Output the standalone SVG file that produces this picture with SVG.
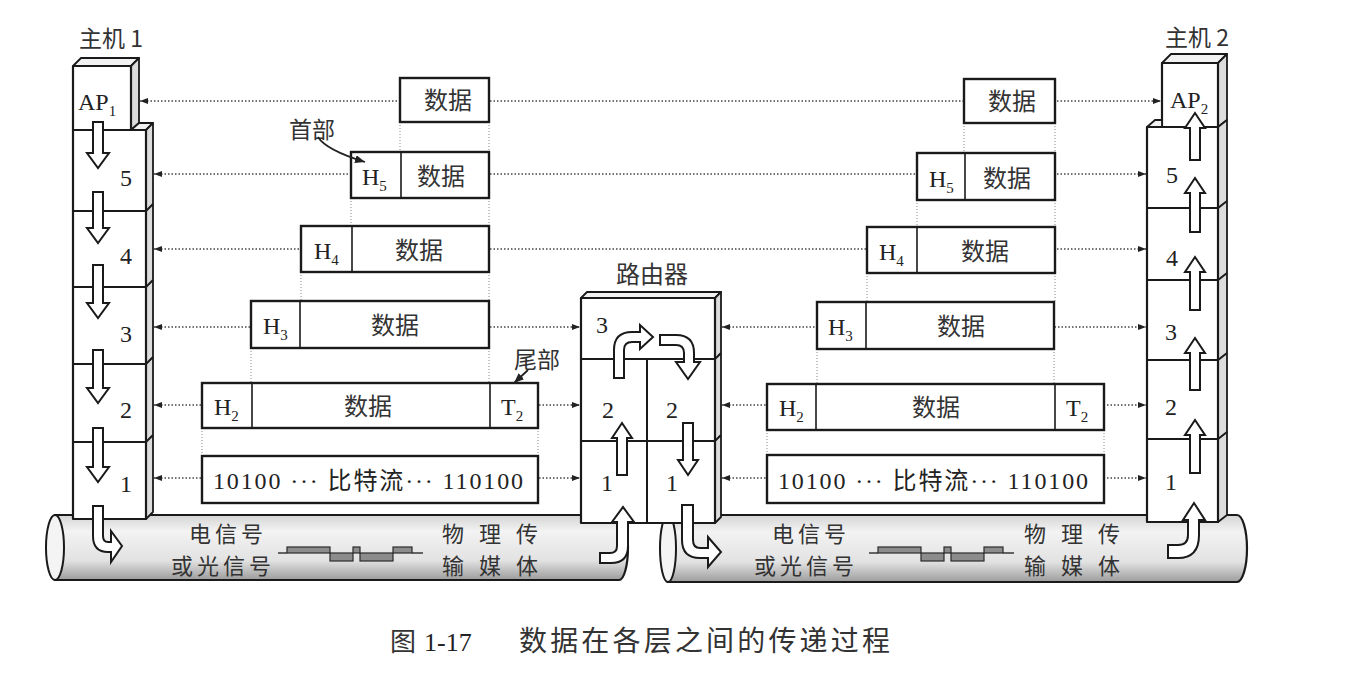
<svg xmlns="http://www.w3.org/2000/svg" width="1369" height="678" viewBox="0 0 1369 678">
<style>
.face{fill:#fff;stroke:#1a1a1a;stroke-width:2.2;stroke-linejoin:round}
.side{fill:#dcdcdc;stroke:#1a1a1a;stroke-width:1.8;stroke-linejoin:round}
.top{fill:#f2f2f2;stroke:#1a1a1a;stroke-width:1.8;stroke-linejoin:round}
.sep{stroke:#1a1a1a;stroke-width:2;fill:none}
.box{fill:#fff;stroke:#1a1a1a;stroke-width:2.4}
.div{stroke:#1a1a1a;stroke-width:1.6}
.dot{stroke:#444;stroke-width:1.3;stroke-dasharray:1.5 2;fill:none}
.guide{stroke:#888;stroke-width:1;stroke-dasharray:1 2;fill:none}
.harrow{fill:#fff;stroke:#1a1a1a;stroke-width:2;stroke-linejoin:miter}
.cable{fill:url(#cableGrad);stroke:#1a1a1a;stroke-width:2.2}
.wave{fill:#8c8c8c;stroke:#2a2a2a;stroke-width:1.2}
.cn{font-family:"Noto Sans CJK SC",sans-serif;fill:#333}
.sf{font-family:"Liberation Serif","Noto Sans CJK SC",serif;fill:#222}
.call{fill:none;stroke:#222;stroke-width:1.8}
.ct{font-family:"Noto Sans CJK SC",sans-serif;fill:#333;font-size:22px}
</style>
<defs>
<linearGradient id="cableGrad" x1="0" y1="0" x2="0" y2="1">
<stop offset="0" stop-color="#d4d4d4"/>
<stop offset="0.25" stop-color="#f3f3f3"/>
<stop offset="0.7" stop-color="#e2e2e2"/>
<stop offset="1" stop-color="#9c9c9c"/>
</linearGradient>
<marker id="ah" viewBox="0 0 8 6" refX="8" refY="3" markerWidth="8" markerHeight="6" markerUnits="userSpaceOnUse" orient="auto-start-reverse">
<path d="M0,0 L8,3 L0,6 Z" fill="#222"/>
</marker>
<marker id="ah2" viewBox="0 0 10 8" refX="10" refY="4" markerWidth="10" markerHeight="8" markerUnits="userSpaceOnUse" orient="auto">
<path d="M0,0 L10,4 L0,8 Z" fill="#222"/>
</marker>
</defs>
<rect width="1369" height="678" fill="#fff"/>

<!-- cables -->
<g id="cable-left">
<path class="cable" d="M55,515 H619 A9,32.5 0 0 1 619,580 H55 Z"/>
<ellipse cx="55" cy="547.5" rx="9" ry="32.5" fill="#f4f4f4" stroke="#1a1a1a" stroke-width="2"/>
<text class="ct" x="189" y="542" letter-spacing="4">电信号</text>
<text class="ct" x="171" y="574" letter-spacing="4">或光信号</text>
<line x1="278" y1="553" x2="287" y2="553" stroke="#2a2a2a" stroke-width="1.4"/>
<rect class="wave" x="287" y="547" width="43" height="6"/>
<rect class="wave" x="330" y="553" width="23" height="8"/>
<rect class="wave" x="353" y="547" width="7" height="6"/>
<rect class="wave" x="360" y="553" width="33" height="8"/>
<rect class="wave" x="393" y="547" width="19" height="6"/>
<line x1="412" y1="553" x2="423" y2="553" stroke="#2a2a2a" stroke-width="1.4"/>
<text class="ct" x="442" y="542" letter-spacing="15">物理传</text>
<text class="ct" x="442" y="574" letter-spacing="15">输媒体</text>
</g>
<g id="cable-right">
<path class="cable" d="M668,515 H1237 A10,33.5 0 0 1 1237,582 H668 Z"/>
<ellipse cx="668" cy="548.5" rx="8" ry="33.5" fill="#f4f4f4" stroke="#1a1a1a" stroke-width="2"/>
<text class="ct" x="772" y="542" letter-spacing="4">电信号</text>
<text class="ct" x="754" y="574" letter-spacing="4">或光信号</text>
<line x1="869" y1="553" x2="878" y2="553" stroke="#2a2a2a" stroke-width="1.4"/>
<rect class="wave" x="878" y="547" width="43" height="6"/>
<rect class="wave" x="921" y="553" width="23" height="8"/>
<rect class="wave" x="944" y="547" width="7" height="6"/>
<rect class="wave" x="951" y="553" width="33" height="8"/>
<rect class="wave" x="984" y="547" width="19" height="6"/>
<line x1="1003" y1="553" x2="1014" y2="553" stroke="#2a2a2a" stroke-width="1.4"/>
<text class="ct" x="1024" y="542" letter-spacing="15">物理传</text>
<text class="ct" x="1024" y="574" letter-spacing="15">输媒体</text>
</g>

<!-- connectors: peer dotted lines and guides -->
<g id="connectors">
<line class="dot" x1="140" y1="101" x2="1161" y2="101" marker-start="url(#ah)" marker-end="url(#ah)"/>
<line class="dot" x1="154" y1="174" x2="1146" y2="174" marker-start="url(#ah)" marker-end="url(#ah)"/>
<line class="dot" x1="154" y1="249" x2="1146" y2="249" marker-start="url(#ah)" marker-end="url(#ah)"/>
<line class="dot" x1="154" y1="327" x2="580" y2="327" marker-start="url(#ah)" marker-end="url(#ah)"/>
<line class="dot" x1="722" y1="327" x2="1146" y2="327" marker-start="url(#ah)" marker-end="url(#ah)"/>
<line class="dot" x1="154" y1="405" x2="580" y2="405" marker-start="url(#ah)" marker-end="url(#ah)"/>
<line class="dot" x1="722" y1="405" x2="1146" y2="405" marker-start="url(#ah)" marker-end="url(#ah)"/>
<line class="dot" x1="154" y1="478" x2="580" y2="478" marker-start="url(#ah)" marker-end="url(#ah)"/>
<line class="dot" x1="722" y1="478" x2="1146" y2="478" marker-start="url(#ah)" marker-end="url(#ah)"/>
<path class="guide" d="M400,122 V152 M489,122 V152 M489,198 V226 M351,198 V226 M489,272 V301 M301,272 V301 M489,348 V383 M251,348 V383 M202,428 V456 M538,428 V456"/>
<path class="guide" d="M964,123 V153 M1055,123 V153 M1055,200 V227 M917,200 V227 M1055,273 V302 M867,273 V302 M1054,349 V384 M817,349 V384 M767,430 V455 M1104,430 V455"/>
</g>

<!-- left packets -->
<g id="pkt-left-ap">
<rect class="box" x="400" y="78" width="89" height="44"/>
<text class="cn" x="448" y="109" font-size="24" text-anchor="middle">数据</text>
</g>
<g id="pkt-left-5">
<rect class="box" x="351" y="152" width="138" height="46"/>
<line class="div" x1="401" y1="152" x2="401" y2="198"/>
<text class="sf" x="362" y="185" font-size="24">H<tspan font-size="15" dy="6">5</tspan></text>
<text class="cn" x="441" y="185" font-size="24" text-anchor="middle">数据</text>
</g>
<g id="pkt-left-4">
<rect class="box" x="301" y="226" width="188" height="46"/>
<line class="div" x1="352" y1="226" x2="352" y2="272"/>
<text class="sf" x="314" y="259" font-size="24">H<tspan font-size="15" dy="6">4</tspan></text>
<text class="cn" x="419" y="259" font-size="24" text-anchor="middle">数据</text>
</g>
<g id="pkt-left-3">
<rect class="box" x="251" y="301" width="238" height="47"/>
<line class="div" x1="300" y1="301" x2="300" y2="348"/>
<text class="sf" x="263" y="334" font-size="24">H<tspan font-size="15" dy="6">3</tspan></text>
<text class="cn" x="395" y="334" font-size="24" text-anchor="middle">数据</text>
</g>
<g id="pkt-left-2">
<rect class="box" x="202" y="383" width="336" height="45"/>
<line class="div" x1="252" y1="383" x2="252" y2="428"/>
<line class="div" x1="490" y1="383" x2="490" y2="428"/>
<text class="sf" x="214" y="415" font-size="24">H<tspan font-size="15" dy="6">2</tspan></text>
<text class="cn" x="368" y="415" font-size="24" text-anchor="middle">数据</text>
<text class="sf" x="501" y="415" font-size="24">T<tspan font-size="15" dy="6">2</tspan></text>
</g>
<g id="pkt-left-1">
<rect class="box" x="202" y="456" width="336" height="47"/>
<text class="sf" x="368" y="489" font-size="24" text-anchor="middle" textLength="310" lengthAdjust="spacing">10100 ··· 比特流··· 110100</text>
</g>
<g id="label-head">
<text class="cn" x="312" y="138" font-size="23" text-anchor="middle">首部</text>
<path class="call" d="M318,137 Q326,150 365,162" marker-end="url(#ah2)"/>
</g>
<g id="label-tail">
<text class="cn" x="537" y="368" font-size="23" text-anchor="middle">尾部</text>
<path class="call" d="M528,370 L514,383" marker-end="url(#ah2)"/>
</g>

<!-- right packets -->
<g id="pkt-right-ap">
<rect class="box" x="964" y="79" width="91" height="44"/>
<text class="cn" x="1012" y="110" font-size="24" text-anchor="middle">数据</text>
</g>
<g id="pkt-right-5">
<rect class="box" x="917" y="153" width="138" height="47"/>
<line class="div" x1="965" y1="153" x2="965" y2="200"/>
<text class="sf" x="929" y="187" font-size="24">H<tspan font-size="15" dy="6">5</tspan></text>
<text class="cn" x="1007" y="187" font-size="24" text-anchor="middle">数据</text>
</g>
<g id="pkt-right-4">
<rect class="box" x="867" y="227" width="188" height="46"/>
<line class="div" x1="917" y1="227" x2="917" y2="273"/>
<text class="sf" x="879" y="260" font-size="24">H<tspan font-size="15" dy="6">4</tspan></text>
<text class="cn" x="985" y="260" font-size="24" text-anchor="middle">数据</text>
</g>
<g id="pkt-right-3">
<rect class="box" x="817" y="302" width="237" height="47"/>
<line class="div" x1="866" y1="302" x2="866" y2="349"/>
<text class="sf" x="828" y="335" font-size="24">H<tspan font-size="15" dy="6">3</tspan></text>
<text class="cn" x="961" y="335" font-size="24" text-anchor="middle">数据</text>
</g>
<g id="pkt-right-2">
<rect class="box" x="767" y="384" width="337" height="46"/>
<line class="div" x1="816" y1="384" x2="816" y2="430"/>
<line class="div" x1="1055" y1="384" x2="1055" y2="430"/>
<text class="sf" x="779" y="416" font-size="24">H<tspan font-size="15" dy="6">2</tspan></text>
<text class="cn" x="936" y="416" font-size="24" text-anchor="middle">数据</text>
<text class="sf" x="1066" y="416" font-size="24">T<tspan font-size="15" dy="6">2</tspan></text>
</g>
<g id="pkt-right-1">
<rect class="box" x="767" y="455" width="337" height="48"/>
<text class="sf" x="933" y="489" font-size="24" text-anchor="middle" textLength="310" lengthAdjust="spacing">10100 ··· 比特流··· 110100</text>
</g>

<!-- host 1 -->
<g id="host1">
<text class="cn" x="111" y="47" font-size="23" text-anchor="middle">主机 1</text>
<polygon class="top" points="73,66 81,58 139,58 131,66"/>
<polygon class="side" points="131,66 139,58 139,123 131,130"/>
<rect class="face" x="73" y="66" width="58" height="64"/>
<polygon class="top" points="131,130 139,123 153,123 146,130"/>
<polygon class="side" points="146,130 153,123 153,512 146,519"/>
<rect class="face" x="73" y="130" width="73" height="389"/>
<path class="sep" d="M73,211 H146 L153,204 M73,287 H146 L153,280 M73,364 H146 L153,357 M73,442 H146 L153,435"/>
<text class="sf" x="78" y="110" font-size="24">AP<tspan font-size="15" dy="6">1</tspan></text>
<text class="sf" x="126" y="186" font-size="24" text-anchor="middle">5</text>
<text class="sf" x="126" y="264" font-size="24" text-anchor="middle">4</text>
<text class="sf" x="126" y="342" font-size="24" text-anchor="middle">3</text>
<text class="sf" x="126" y="418" font-size="24" text-anchor="middle">2</text>
<text class="sf" x="126" y="492" font-size="24" text-anchor="middle">1</text>
<path class="harrow" d="M93,122 H103 V153 H109 L98,168 L87,153 H93 Z"/>
<path class="harrow" d="M93,192 H103 V228 H109 L98,243 L87,228 H93 Z"/>
<path class="harrow" d="M93,265 H103 V303 H109 L98,318 L87,303 H93 Z"/>
<path class="harrow" d="M93,350 H103 V388 H109 L98,403 L87,388 H93 Z"/>
<path class="harrow" d="M93,428 H103 V467 H109 L98,482 L87,467 H93 Z"/>
<path class="harrow" d="M93,506 V536 Q93,552 108,552 H111 V562 L122,546 L111,531 V542 H108 Q103,542 103,536 V506 Z"/>
</g>

<!-- host 2 -->
<g id="host2">
<text class="cn" x="1197" y="46" font-size="23" text-anchor="middle">主机 2</text>
<polygon class="top" points="1162,63 1171,54 1227,54 1218,63"/>
<polygon class="side" points="1218,63 1227,54 1227,120 1218,127"/>
<rect class="face" x="1162" y="63" width="56" height="64"/>
<polygon class="top" points="1147,127 1155,120 1162,120 1162,127"/>
<polygon class="side" points="1218,127 1227,120 1227,515 1218,522"/>
<rect class="face" x="1147" y="127" width="71" height="395"/>
<path class="sep" d="M1147,208 H1218 L1227,201 M1147,280 H1218 L1227,273 M1147,360 H1218 L1227,353 M1147,439 H1218 L1227,432"/>
<text class="sf" x="1170" y="108" font-size="24">AP<tspan font-size="15" dy="6">2</tspan></text>
<text class="sf" x="1172" y="183" font-size="24" text-anchor="middle">5</text>
<text class="sf" x="1172" y="266" font-size="24" text-anchor="middle">4</text>
<text class="sf" x="1171" y="340" font-size="24" text-anchor="middle">3</text>
<text class="sf" x="1171" y="415" font-size="24" text-anchor="middle">2</text>
<text class="sf" x="1171" y="490" font-size="24" text-anchor="middle">1</text>
<path class="harrow" d="M1190,160 V128 H1185 L1195,113 L1205,128 H1200 V160 Z"/>
<path class="harrow" d="M1190,232 V193 H1185 L1195,178 L1205,193 H1200 V232 Z"/>
<path class="harrow" d="M1190,310 V272 H1185 L1195,257 L1205,272 H1200 V310 Z"/>
<path class="harrow" d="M1190,390 V353 H1185 L1195,338 L1205,353 H1200 V390 Z"/>
<path class="harrow" d="M1190,473 V435 H1185 L1195,420 L1205,435 H1200 V473 Z"/>
<path class="harrow" d="M1168,545 H1178 Q1188,545 1188,535 V520 H1183 L1194,503 L1205,520 H1199 V535 Q1199,558 1178,558 H1168 Z"/>
</g>

<!-- router -->
<g id="router">
<text class="cn" x="652" y="283" font-size="24" text-anchor="middle">路由器</text>
<polygon class="top" points="581,298 587,292 721,292 715,298"/>
<polygon class="side" points="715,298 721,292 721,517 715,523"/>
<rect class="face" x="581" y="298" width="134" height="225"/>
<path class="sep" d="M581,359 H715 L721,353 M581,441 H715 L721,435 M647,359 V523"/>
<text class="sf" x="602" y="333" font-size="24" text-anchor="middle">3</text>
<text class="sf" x="608" y="418" font-size="24" text-anchor="middle">2</text>
<text class="sf" x="672" y="418" font-size="24" text-anchor="middle">2</text>
<text class="sf" x="607" y="491" font-size="24" text-anchor="middle">1</text>
<text class="sf" x="672" y="491" font-size="24" text-anchor="middle">1</text>
<path class="harrow" d="M614,378 V350 Q614,332 632,332 H640 V325 L653,337 L640,349 V342 H632 Q624,342 624,350 V378 Z"/>
<path class="harrow" d="M660,335 H676 Q694,335 694,353 V362 H700 L688,379 L676,362 H684 V353 Q684,345 676,345 H660 Z"/>
<path class="harrow" d="M617,475 V438 H612 L622,423 L632,438 H627 V475 Z"/>
<path class="harrow" d="M683,423 H693 V460 H698 L688,475 L678,460 H683 Z"/>
<path class="harrow" d="M600,553 H610 Q617,553 617,546 V522 H612 L623,507 L634,522 H628 V546 Q628,563 611,563 H600 Z"/>
<path class="harrow" d="M682,505 V540 Q682,558 700,558 H708 V567 L721,552 L708,537 V548 H700 Q693,548 693,540 V505 Z"/>
</g>

<!-- caption -->
<g id="caption">
<text class="cn" x="390" y="651" font-size="26">图</text>
<text class="sf" x="424" y="651" font-size="26">1-17</text>
<text class="cn" x="519" y="651" font-size="28" textLength="371" lengthAdjust="spacing">数据在各层之间的传递过程</text>
</g>
</svg>
